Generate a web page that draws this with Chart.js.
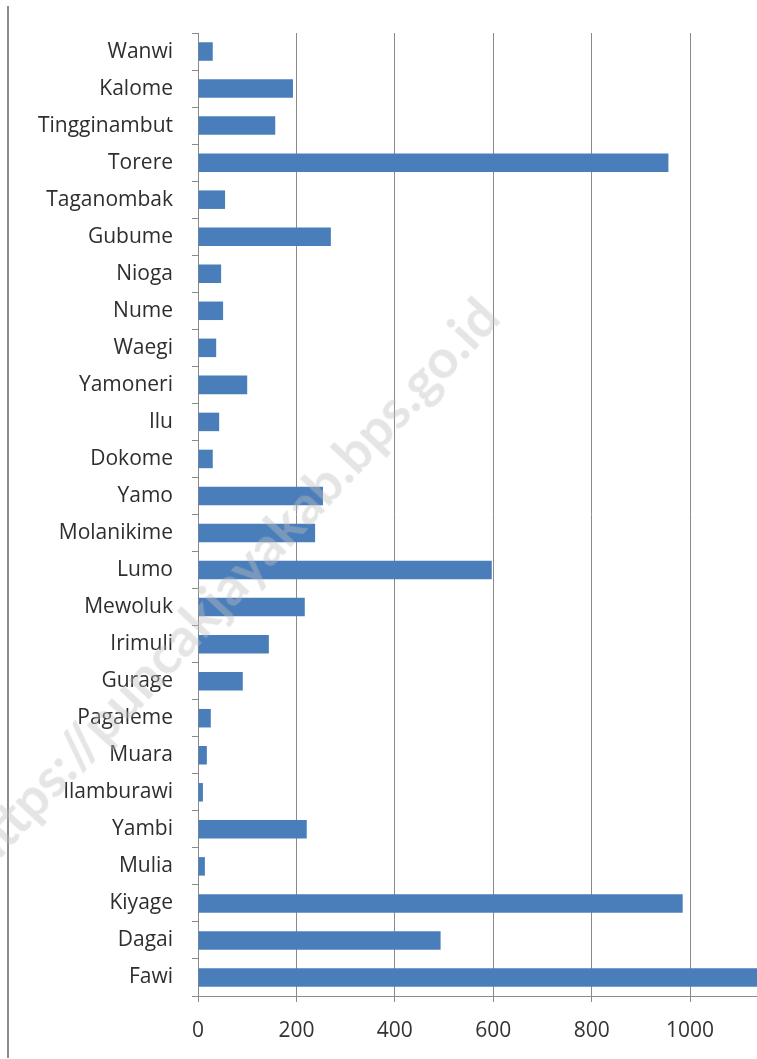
<!DOCTYPE html>
<html>
<head>
<meta charset="utf-8">
<script src="https://cdn.jsdelivr.net/npm/chart.js@4/dist/chart.umd.min.js"></script>
<style>
  html, body { margin: 0; padding: 0; background: #fff; }
  #wrap { position: relative; width: 757px; height: 1059px; overflow: hidden; }
  #garis { position: absolute; left: 7px; top: 6px; width: 2px; height: 1052px; background: #8c8c8c; }
  #wm {
    position: absolute; left: -150px; top: 550px; width: 760px; text-align: center;
    transform: rotate(-47deg); transform-origin: center center;
    font-family: Lato, "Open Sans", sans-serif; font-size: 54px; font-weight: bold;
    color: rgba(190, 190, 190, 0.4); white-space: nowrap; pointer-events: none;
  }
</style>
</head>
<body>
<div id="wrap">
  <canvas id="grafik" width="757" height="1059"></canvas>
  <div id="garis"></div>
  <div id="wm">https://puncakjayakab.bps.go.id</div>
</div>
<script>
// nama distrik, dari atas ke bawah
const distrik = ['Wanwi', 'Kalome', 'Tingginambut', 'Torere', 'Taganombak', 'Gubume', 'Nioga', 'Nume',
  'Waegi', 'Yamoneri', 'Ilu', 'Dokome', 'Yamo', 'Molanikime', 'Lumo', 'Mewoluk', 'Irimuli', 'Gurage',
  'Pagaleme', 'Muara', 'Ilamburawi', 'Yambi', 'Mulia', 'Kiyage', 'Dagai', 'Fawi'];

const nilai = [30, 193, 157, 956, 55, 270, 47, 51,
  37, 100, 43, 30, 254, 238, 597, 217, 144, 91,
  26, 18, 10, 221, 14, 985, 493, 1180];

const tickX = [0, 200, 400, 600, 800, 1000];

const ctx = document.getElementById('grafik');
const hurufLabel = { family: '"Open Sans", Lato, sans-serif', size: 21 };

let chart = new Chart(ctx, {
    type: 'bar',
    data: {
        labels: distrik,
        datasets: [{
            data: nilai,
            backgroundColor: '#4a7ebb',
            borderWidth: 0,
            barPercentage: 0.5,
            categoryPercentage: 1.0
        }]
    },
    options: {
        indexAxis: 'y',
        responsive: false,
        animation: false,
        layout: { padding: { top: 33, left: 0, right: 0, bottom: 0 } },
        plugins: {
            legend: { display: false },
            tooltip: { enabled: false }
        },
        scales: {
            x: {
                min: 0,
                max: 1136,
                afterBuildTicks: (scale) => {
                    scale.ticks = tickX.map(v => ({ value: v }));
                },
                afterFit: (scale) => { scale.height = 63; },
                ticks: {
                    padding: 16,
                    color: '#333',
                    font: hurufLabel,
                    callback: (v) => String(v)
                },
                grid: {
                    color: '#8a8a8a',
                    lineWidth: 1,
                    tickLength: 6
                },
                border: { color: '#8a8a8a' }
            },
            y: {
                afterFit: (scale) => { scale.width = 198; },
                ticks: {
                    padding: 19,
                    color: '#2e2e2e',
                    font: hurufLabel
                },
                grid: {
                    drawOnChartArea: false,
                    color: '#8a8a8a',
                    tickLength: 6
                },
                border: { color: '#8a8a8a' }
            }
        }
    }
});
</script>
</body>
</html>
